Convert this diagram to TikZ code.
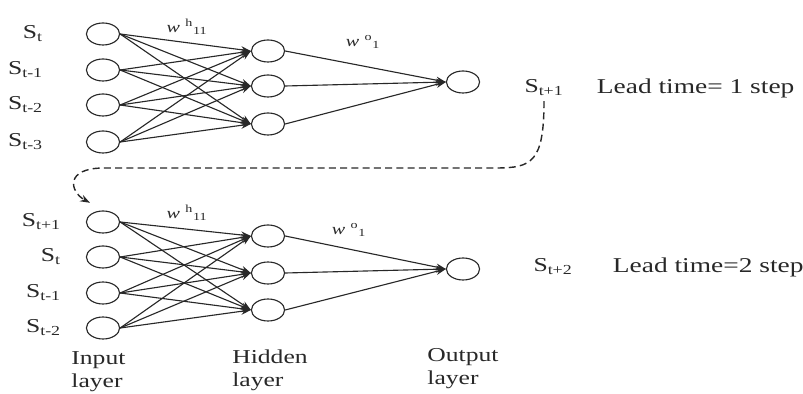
\documentclass[tikz,border=0pt]{standalone}
\usepackage{fontspec}
\setmainfont{Liberation Serif}
\newfontfamily\widefont[FakeStretch=1.3]{Liberation Serif}
\usetikzlibrary{shapes.geometric, arrows.meta, positioning}
\definecolor{InkGray}{RGB}{40,40,40}
\begin{document}
\begin{tikzpicture}[
        neuron/.style={draw=InkGray,ellipse,line width=0.8pt,
                       minimum width=0.83cm,minimum height=0.55cm,inner sep=0pt},
        link/.style={-{Stealth[length=7pt,width=5pt]},line width=0.8pt,InkGray},
        lbl/.style={font=\widefont\fontsize{14}{16.4}\selectfont,text=InkGray},
        wlbl/.style={font=\widefont\fontsize{11}{13}\selectfont,text=InkGray},
        lead/.style={font=\widefont\fontsize{15}{17}\selectfont,text=InkGray,anchor=west}]
        \useasboundingbox (0,0) rectangle (20.075,9.85);
        % lead time 1
        \node[neuron] (in1) at (2.575,9.0)   {};
        \node[neuron] (in2) at (2.575,8.1)   {};
        \node[neuron] (in3) at (2.575,7.225) {};
        \node[neuron] (in4) at (2.575,6.3)   {};
        \node[neuron] (hid1) at (6.7,8.575) {};
        \node[neuron] (hid2) at (6.7,7.7)   {};
        \node[neuron] (hid3) at (6.7,6.75)  {};
        \node[neuron] (out) at (11.575,7.8) {};
        \node[lbl,left=0.95cm of in1] (sa1) {S\textsubscript{t}};
        \node[lbl,left=0.95cm of in2] (sa2) {S\textsubscript{t-1}};
        \node[lbl,left=0.95cm of in3] (sa3) {S\textsubscript{t-2}};
        \node[lbl,left=0.95cm of in4] (sa4) {S\textsubscript{t-3}};
        \foreach \i in {1,...,4}
          \foreach \j in {1,2,3}
            \draw[link] (in\i.east) -- (hid\j.west);
        \foreach \j in {1,2,3}
          \draw[link] (hid\j.east) -- (out.west);
        \node[wlbl] (wh) at (4.675,9.175) {\itshape w\,\,\upshape\textsuperscript{h}\textsubscript{11}};
        \node[wlbl] (wo) at (9.075,8.8) {\itshape w\,\,\upshape\textsuperscript{o}\textsubscript{1}};
        \node[lbl] (st1) at (13.6,7.65) {S\textsubscript{t+1}};
        \node[lead] (lead1) at (14.8,7.65) {Lead time= 1 step};
        % lead time 2
        \node[neuron] (bin1) at (2.575,4.3)   {};
        \node[neuron] (bin2) at (2.575,3.425) {};
        \node[neuron] (bin3) at (2.575,2.525) {};
        \node[neuron] (bin4) at (2.575,1.65)  {};
        \node[neuron] (bhid1) at (6.7,3.95)  {};
        \node[neuron] (bhid2) at (6.7,3.025) {};
        \node[neuron] (bhid3) at (6.7,2.1)   {};
        \node[neuron] (bout) at (11.575,3.125) {};
        \node[lbl,left=0.5cm of bin1] (sb1) {S\textsubscript{t+1}};
        \node[lbl,left=0.5cm of bin2] (sb2) {S\textsubscript{t}};
        \node[lbl,left=0.5cm of bin3] (sb3) {S\textsubscript{t-1}};
        \node[lbl,left=0.5cm of bin4] (sb4) {S\textsubscript{t-2}};
        \foreach \i in {1,...,4}
          \foreach \j in {1,2,3}
            \draw[link] (bin\i.east) -- (bhid\j.west);
        \foreach \j in {1,2,3}
          \draw[link] (bhid\j.east) -- (bout.west);
        \node[wlbl] (bwh) at (4.675,4.525) {\itshape w\,\,\upshape\textsuperscript{h}\textsubscript{11}};
        \node[wlbl] (bwo) at (8.725,4.1) {\itshape w\,\,\upshape\textsuperscript{o}\textsubscript{1}};
        \node[lbl] (st2) at (13.825,3.175) {S\textsubscript{t+2}};
        \node[lead] (lead2) at (15.2,3.175) {Lead time=2 step};
        \coordinate (drop) at (2.25,4.78);
        \draw[link,line width=1pt,dash pattern=on 5pt off 3pt]
          (st1.south) .. controls (13.6,5.8) and (13.3,5.65) .. (12.4,5.65)
          -- (2.6,5.65) .. controls (1.6,5.65) and (1.75,5.05) .. (drop);
        \node[lbl,align=left] (inlayer) at (2.46,0.56) {Input\\layer};
        \node[lbl,align=left] (hidlayer) at (6.75,0.6) {Hidden\\layer};
        \node[lbl,align=left] (outlayer) at (11.575,0.64) {Output\\layer};
      \end{tikzpicture}
\end{document}
